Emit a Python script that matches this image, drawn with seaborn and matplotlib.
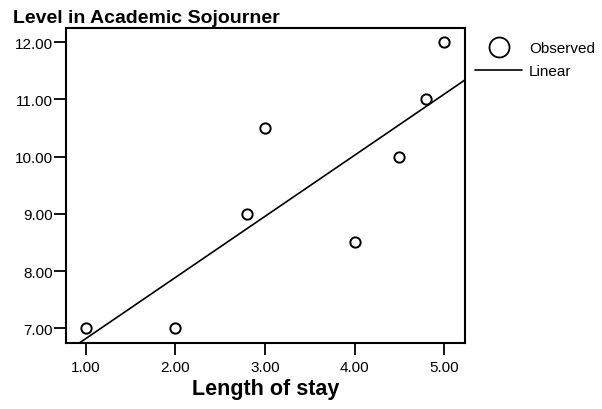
import matplotlib
matplotlib.use("Agg")
import matplotlib.pyplot as plt
import seaborn as sns
import pandas as pd
from matplotlib.lines import Line2D

# Data
length_of_stay = [1.0, 2.0, 2.8, 3.0, 4.0, 4.5, 4.8, 5.0]
level = [7.0, 7.0, 9.0, 10.5, 8.5, 10.0, 11.0, 12.0]
# Linear fit line as drawn in the chart
fit_intercept = 5.75
fit_slope = 1.069
x_ticks = [1.0, 2.0, 3.0, 4.0, 5.0]
y_ticks = [7.0, 8.0, 9.0, 10.0, 11.0, 12.0]

sns.set_style("ticks")
plt.rcParams['font.family'] = ['Liberation Sans', 'DejaVu Sans']
plt.rcParams['text.color'] = 'black'
plt.rcParams['axes.labelcolor'] = 'black'

df = pd.DataFrame({"Length of stay": length_of_stay, "Level": level})

fig = plt.figure(figsize=(6.02, 4.10), dpi=100)
ax = fig.add_axes([65.7/602, 1-344/410, (465-65.7)/602, (344-29)/410])

sns.scatterplot(data=df, x="Length of stay", y="Level", ax=ax,
                marker="o", s=55, facecolor="white", edgecolor="black",
                linewidth=1.4, zorder=3)
ax.axline((0, fit_intercept), slope=fit_slope, color="black", lw=1.2, zorder=2)

ax.set_xlim(0.777, 5.231)
ax.set_ylim(6.743, 12.25)
ax.set_xticks(x_ticks)
ax.set_yticks(y_ticks)
ax.set_xticklabels([f"{v:.2f}" for v in x_ticks])
ax.set_yticklabels([f"{v:.2f}" for v in y_ticks])
ax.tick_params(axis='both', direction='out', length=8.3, width=1.3,
               colors='black', labelcolor='black', labelsize=11)
ax.tick_params(axis='x', pad=4)
ax.tick_params(axis='y', pad=1.2)
for s in ax.spines.values():
    s.set_visible(True)
    s.set_linewidth(1.5)
    s.set_color("black")

ax.set_xlabel("Length of stay", fontsize=15.5, fontweight='bold', labelpad=3,
              color='black')
ax.set_ylabel("")
fig.text(13/602, 1-22.7/410, "Level in Academic Sojourner", fontsize=14,
         fontweight='bold', ha='left', va='baseline', color='black')

handles = [Line2D([], [], marker='o', ls='none', markersize=14.4,
                  markerfacecolor='white', markeredgecolor='black', markeredgewidth=1.3),
           Line2D([], [], color='black', lw=1.2)]
leg = fig.legend(handles, ["Observed", "Linear"], loc='upper left',
                 bbox_to_anchor=(475/602, 1-42/410), frameon=False,
                 fontsize=11, handlelength=3.1, handletextpad=0.45, labelspacing=0.6,
                 borderpad=0, borderaxespad=0)
for t in leg.get_texts():
    t.set_color('black')

fig.savefig("out.png", dpi=100, facecolor="white")
